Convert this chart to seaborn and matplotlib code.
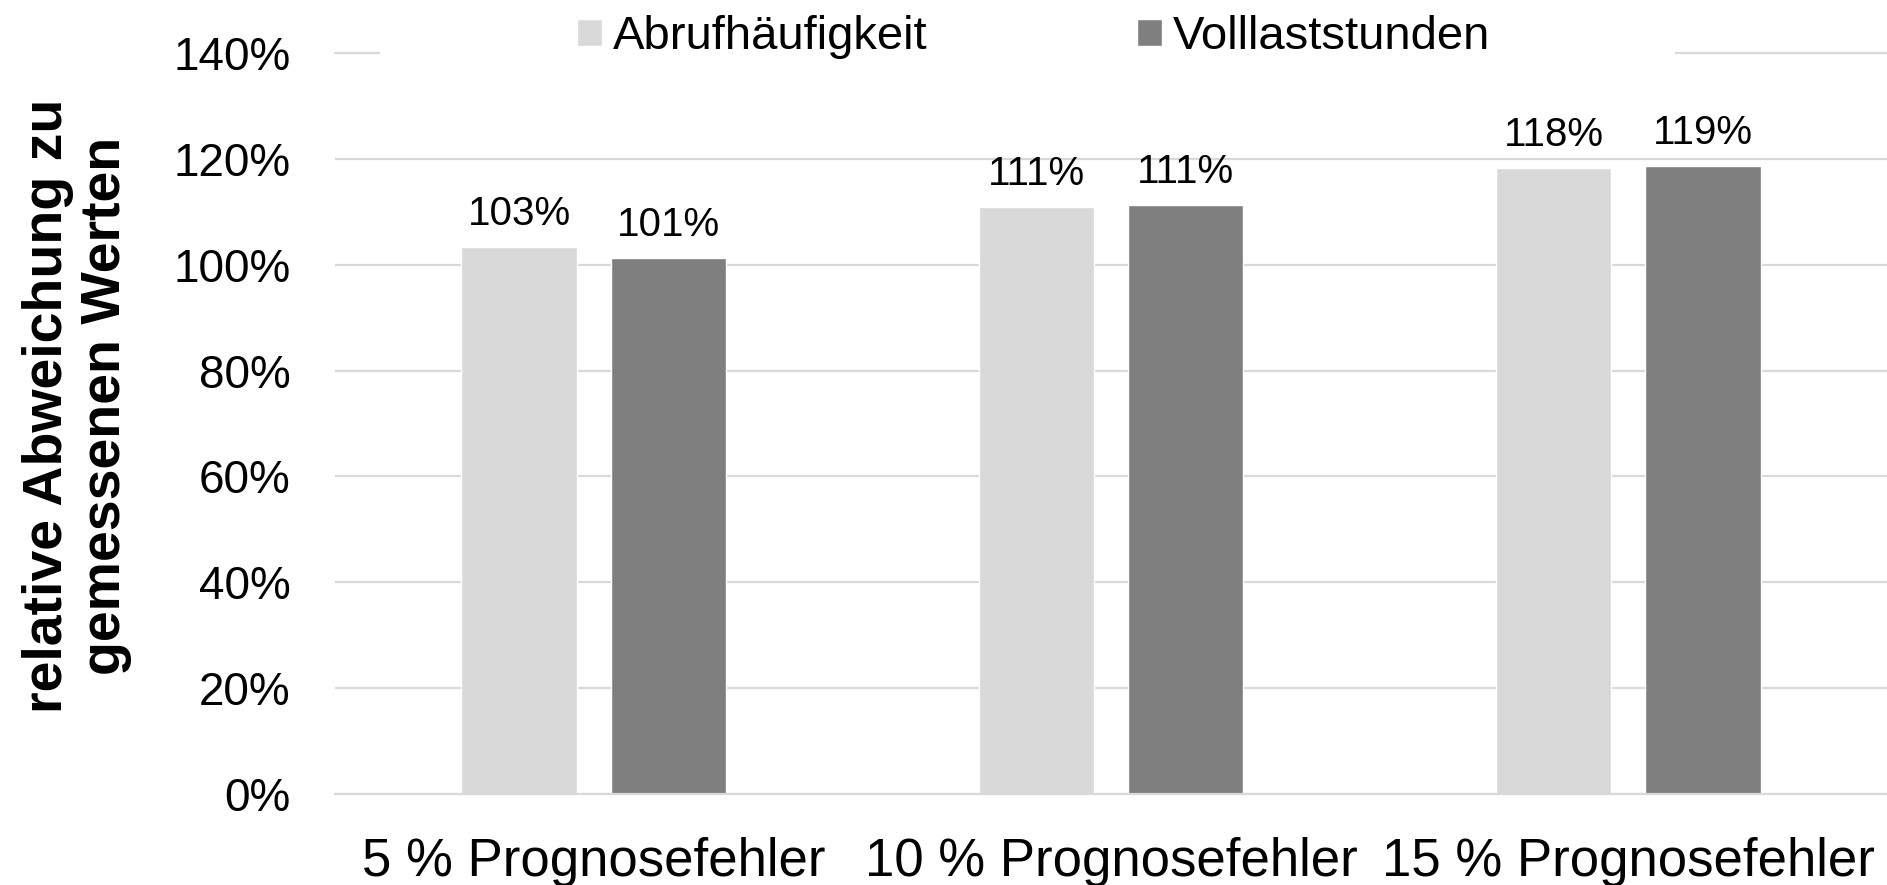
import numpy as np
import pandas as pd
import matplotlib
matplotlib.use("Agg")
import matplotlib.pyplot as plt
import seaborn as sns

# data
szenarien = ["5 % Prognosefehler", "10 % Prognosefehler", "15 % Prognosefehler"]
reihen = ["Abrufhäufigkeit", "Volllaststunden"]
abrufhaeufigkeit = [1.034, 1.110, 1.183]
volllaststunden = [1.013, 1.113, 1.187]
y_ticks = [0.0, 0.2, 0.4, 0.6, 0.8, 1.0, 1.2, 1.4]

df = pd.DataFrame({
    "szenario": szenarien * 2,
    "reihe": [reihen[0]] * 3 + [reihen[1]] * 3,
    "wert": abrufhaeufigkeit + volllaststunden,
})

sns.set_style("white")
plt.rcParams["font.family"] = ["Liberation Sans", "DejaVu Sans"]
plt.rcParams["text.color"] = "black"
plt.rcParams["axes.labelcolor"] = "black"
plt.rcParams["xtick.color"] = "black"
plt.rcParams["ytick.color"] = "black"

grid_col = "#d9d9d9"
farben = ["#d9d9d9", "#7f7f7f"]

fig = plt.figure(figsize=(18.87, 8.85), dpi=100)
ax = fig.add_axes([0.1775, 0.1028, 0.8225, 0.8373])

sns.barplot(data=df, x="szenario", y="wert", hue="reihe", order=szenarien,
            hue_order=reihen, palette=farben, width=0.577, gap=0.227,
            errorbar=None, saturation=1, ax=ax)

for cont in ax.containers:
    ax.bar_label(cont, fmt=lambda v: f"{v:.0%}", padding=10, fontsize=29, color="black")

ax.set_ylim(0, 1.4)
ax.set_xlim(-0.5, 2.5)
ax.set_yticks(y_ticks)
ax.set_yticklabels([f"{t:.0%}" for t in y_ticks])
ax.yaxis.grid(True, color=grid_col, lw=1.6)
ax.set_axisbelow(True)
ax.yaxis.get_gridlines()[-1].set_visible(False)
# top gridline is interrupted by the legend box
ax.axhline(1.4, xmin=0, xmax=0.0284, color=grid_col, lw=1.6, clip_on=False)
ax.axhline(1.4, xmin=0.864, xmax=1, color=grid_col, lw=1.6, clip_on=False)

for s in ["left", "top", "right"]:
    ax.spines[s].set_visible(False)
ax.spines["bottom"].set_color(grid_col)
ax.spines["bottom"].set_linewidth(1.6)

ax.tick_params(axis="y", length=0, pad=32, labelsize=33, labelcolor="black")
ax.tick_params(axis="x", length=0, pad=31, labelsize=38, labelcolor="black")
ax.set_xlabel("")
ax.set_ylabel("relative Abweichung zu\ngemessenen Werten", fontsize=40,
              fontweight="bold", linespacing=1.15, color="black")
ax.yaxis.set_label_coords(-0.131, 0.524)

leg = ax.legend(loc="center", bbox_to_anchor=(0.5477, 0.958), bbox_transform=fig.transFigure,
                ncol=2, frameon=False, fontsize=34, handlelength=0.53, handleheight=0.53,
                handletextpad=0.23, columnspacing=4.45, borderpad=0)
for t in leg.get_texts():
    t.set_color("black")

fig.savefig("out.png", dpi=100)
